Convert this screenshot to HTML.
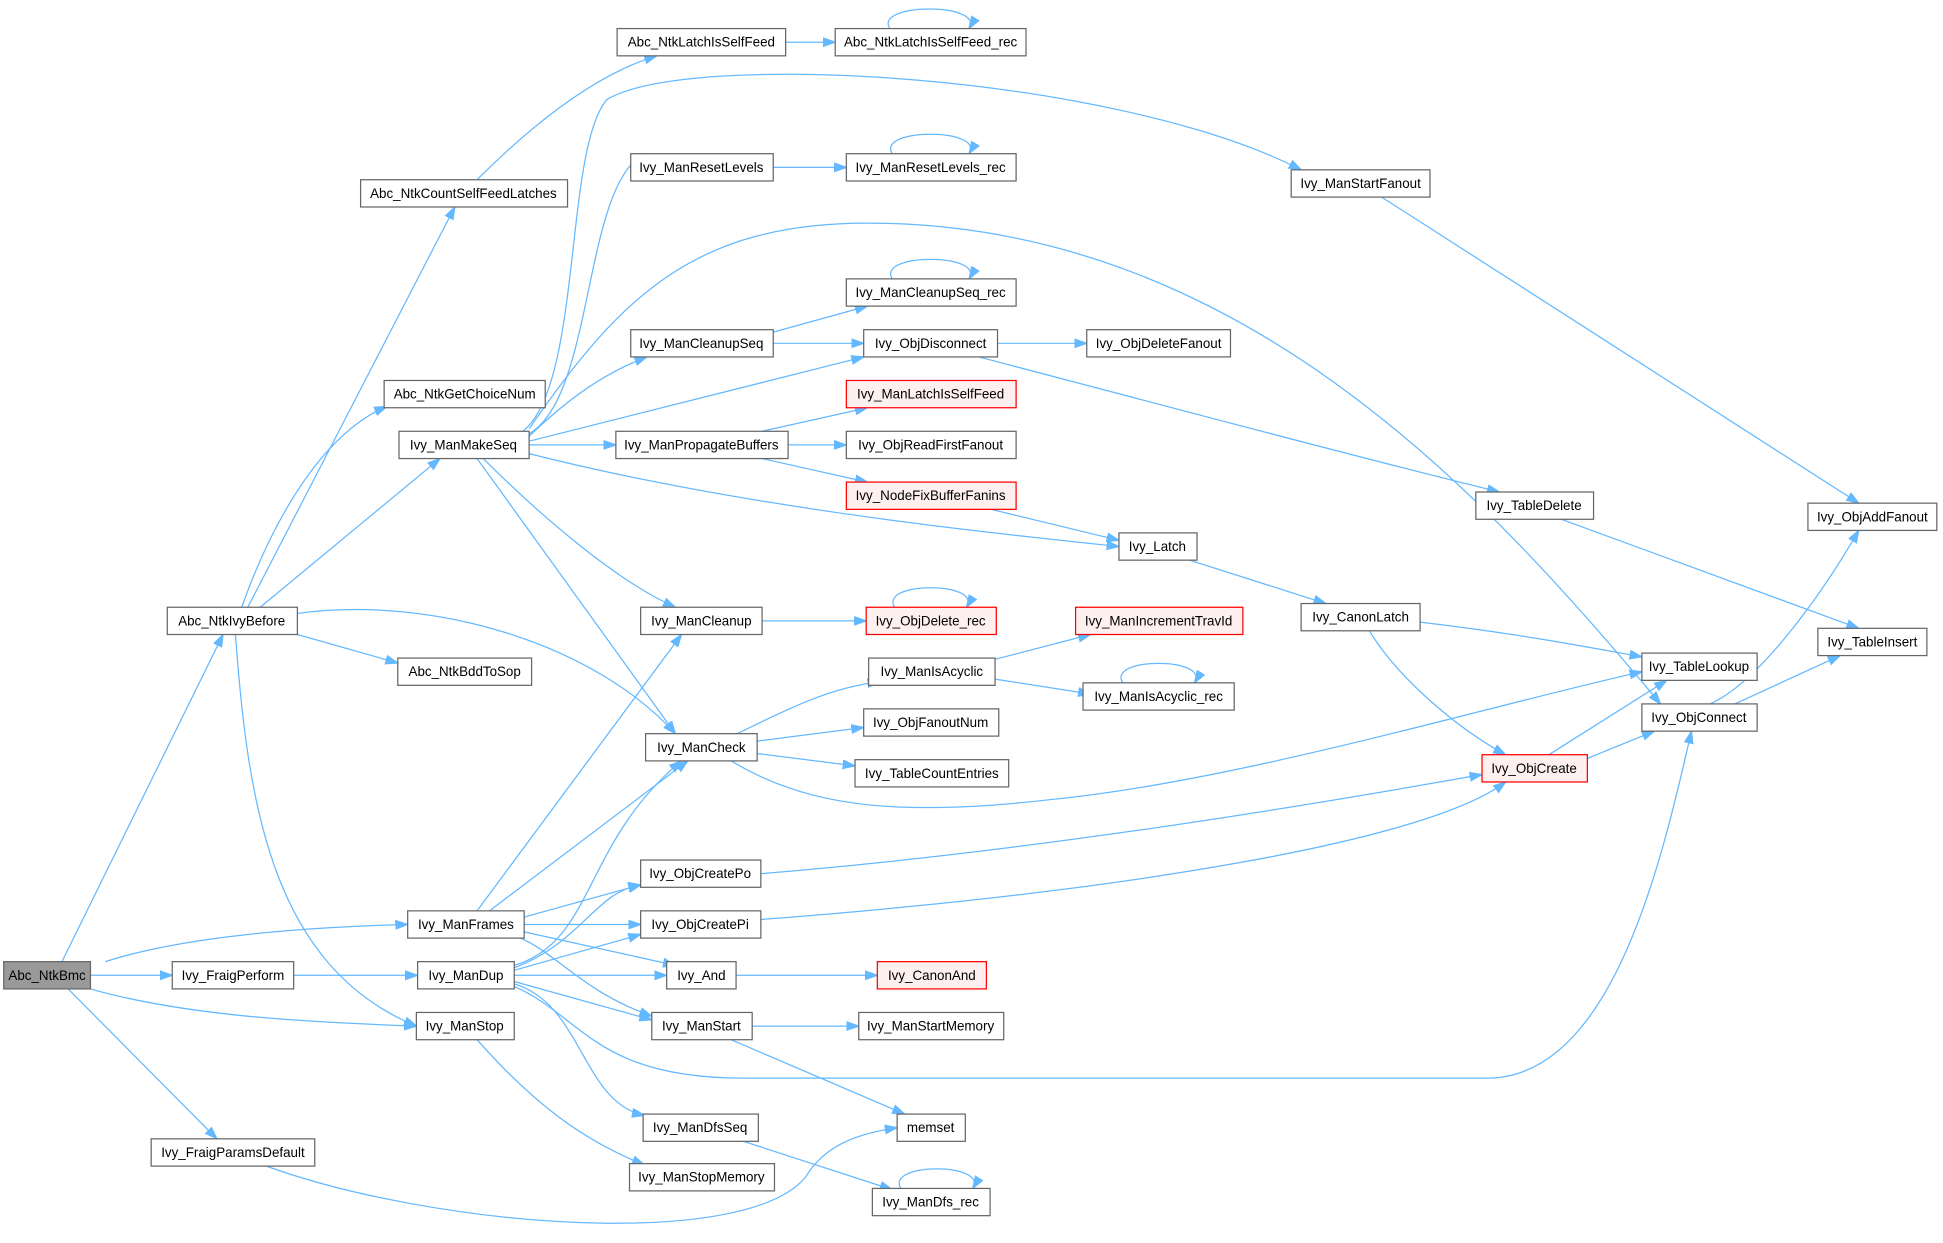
<!DOCTYPE html>
<html><head><meta charset="utf-8"><style>
html,body{margin:0;padding:0;background:#fff;}
svg{display:block;}
text{font-family:"Liberation Sans",Arial,sans-serif;font-size:10.8px;fill:#000;text-anchor:middle;dominant-baseline:central;}
.n{fill:#fff;stroke:#666;stroke-width:1;}
.r{fill:#fff0f0;stroke:#f00;stroke-width:1;}
.g{fill:#999;stroke:#666;stroke-width:1;}
path{fill:none;stroke:#63b8ff;stroke-width:1;}
</style></head><body>
<svg width="1943" height="1243" viewBox="0 0 1568 1003" xmlns="http://www.w3.org/2000/svg">
<defs><marker id="a" viewBox="0 0 10 10" refX="10" refY="5" markerWidth="10" markerHeight="10" markerUnits="userSpaceOnUse" orient="auto"><path d="M0,1.5 L10,5 L0,8.5z" style="fill:#63b8ff;stroke:#63b8ff"/></marker></defs>
<g marker-end="url(#a)">
<path d="M50,776 L180,512"/>
<path d="M73,787 L139,787"/>
<path d="M85,776 C150,755 250,748 329,746"/>
<path d="M73,798 C150,820 250,825 336,828"/>
<path d="M55,798 L175,919"/>
<path d="M237,787 L337,787"/>
<path d="M215,941 C350,990 600,1010 650,950 C665,925 690,915 724,910"/>
<path d="M200,490 L367,167"/>
<path d="M195,490 C220,420 260,350 312,328"/>
<path d="M210,490 L355,370"/>
<path d="M240,512 L321,535"/>
<path d="M240,495 C350,480 480,520 545,592"/>
<path d="M190,512 C200,650 220,780 336,828"/>
<path d="M385,145 C430,100 480,60 530,45"/>
<path d="M634,34 L674,34"/>
<path d="M718,23 C705,2 795,2 782,23"/>
<path d="M427,350 C480,320 470,150 520,124"/>
<path d="M422,348 C470,310 455,120 490,80 C560,40 900,60 1050,137"/>
<path d="M427,346 C500,240 560,180 700,180 C1000,180 1200,400 1340,568"/>
<path d="M427,352 C460,320 490,300 522,288"/>
<path d="M427,356 L697,288"/>
<path d="M427,359 L497,359"/>
<path d="M427,366 C600,410 800,430 903,441"/>
<path d="M390,370 C440,420 500,470 545,490"/>
<path d="M385,370 L545,592"/>
<path d="M624,135 L683,135"/>
<path d="M720,124 C707,103 795,103 782,124"/>
<path d="M624,268 L700,247"/>
<path d="M624,277 L697,277"/>
<path d="M720,225 C707,204 795,204 782,225"/>
<path d="M805,277 L877,277"/>
<path d="M790,288 C950,330 1100,370 1210,397"/>
<path d="M615,348 L700,329"/>
<path d="M636,359 L683,359"/>
<path d="M615,370 L700,389"/>
<path d="M800,411 L903,436"/>
<path d="M1115,159 L1500,406"/>
<path d="M1260,419 L1500,507"/>
<path d="M960,452 L1070,487"/>
<path d="M1146,502 C1230,512 1280,522 1325,530"/>
<path d="M1105,509 C1130,550 1180,590 1215,609"/>
<path d="M1250,609 L1345,549"/>
<path d="M1281,612 L1335,590"/>
<path d="M1380,568 C1420,550 1470,480 1500,428"/>
<path d="M1400,568 L1485,529"/>
<path d="M615,501 L699,501"/>
<path d="M722,490 C709,469 793,469 780,490"/>
<path d="M595,592 C640,570 670,555 710,550"/>
<path d="M611,598 L697,587"/>
<path d="M611,608 L690,618"/>
<path d="M590,614 C650,650 720,660 850,645 C1000,630 1200,570 1325,542"/>
<path d="M803,532 L880,512"/>
<path d="M803,548 L880,560"/>
<path d="M906,551 C893,530 977,530 964,551"/>
<path d="M385,735 L550,512"/>
<path d="M395,735 L555,614"/>
<path d="M423,740 L517,714"/>
<path d="M423,746 L517,746"/>
<path d="M423,752 L545,779"/>
<path d="M420,757 C450,770 470,800 526,820"/>
<path d="M415,779 C480,760 470,680 550,614"/>
<path d="M415,781 C470,760 480,720 517,714"/>
<path d="M415,783 L517,754"/>
<path d="M415,787 L538,787"/>
<path d="M415,792 L526,823"/>
<path d="M415,794 C470,810 470,890 520,900"/>
<path d="M415,796 C470,820 480,870 600,870 C800,870 1000,870 1200,870 C1300,870 1340,700 1365,590"/>
<path d="M614,705 C800,690 1000,660 1196,625"/>
<path d="M614,742 C900,720 1150,680 1215,631"/>
<path d="M594,787 L708,787"/>
<path d="M607,828 L693,828"/>
<path d="M590,839 L730,899"/>
<path d="M385,839 C430,890 470,920 520,940"/>
<path d="M600,921 L720,960"/>
<path d="M727,959 C714,938 798,938 785,959"/>
</g>
<g>
<rect class="g" x="3" y="776" width="70" height="22"/><text x="38" y="787">Abc_NtkBmc</text>
<rect class="n" x="139" y="776" width="98" height="22"/><text x="188" y="787">Ivy_FraigPerform</text>
<rect class="n" x="337" y="776" width="78" height="22"/><text x="376" y="787">Ivy_ManDup</text>
<rect class="n" x="329" y="735" width="94" height="22"/><text x="376" y="746">Ivy_ManFrames</text>
<rect class="n" x="336" y="817" width="79" height="22"/><text x="375" y="828">Ivy_ManStop</text>
<rect class="n" x="122" y="919" width="132" height="22"/><text x="188" y="930">Ivy_FraigParamsDefault</text>
<rect class="n" x="135" y="490" width="105" height="22"/><text x="187" y="501">Abc_NtkIvyBefore</text>
<rect class="n" x="291" y="145" width="167" height="22"/><text x="374" y="156">Abc_NtkCountSelfFeedLatches</text>
<rect class="n" x="310" y="307" width="130" height="22"/><text x="375" y="318">Abc_NtkGetChoiceNum</text>
<rect class="n" x="322" y="348" width="105" height="22"/><text x="374" y="359">Ivy_ManMakeSeq</text>
<rect class="n" x="321" y="531" width="108" height="22"/><text x="375" y="542">Abc_NtkBddToSop</text>
<rect class="n" x="498" y="23" width="136" height="22"/><text x="566" y="34">Abc_NtkLatchIsSelfFeed</text>
<rect class="n" x="674" y="23" width="154" height="22"/><text x="751" y="34">Abc_NtkLatchIsSelfFeed_rec</text>
<rect class="n" x="509" y="124" width="115" height="22"/><text x="566" y="135">Ivy_ManResetLevels</text>
<rect class="n" x="683" y="124" width="137" height="22"/><text x="751" y="135">Ivy_ManResetLevels_rec</text>
<rect class="n" x="1042" y="137" width="112" height="22"/><text x="1098" y="148">Ivy_ManStartFanout</text>
<rect class="n" x="683" y="225" width="137" height="22"/><text x="751" y="236">Ivy_ManCleanupSeq_rec</text>
<rect class="n" x="509" y="266" width="115" height="22"/><text x="566" y="277">Ivy_ManCleanupSeq</text>
<rect class="n" x="697" y="266" width="108" height="22"/><text x="751" y="277">Ivy_ObjDisconnect</text>
<rect class="n" x="877" y="266" width="116" height="22"/><text x="935" y="277">Ivy_ObjDeleteFanout</text>
<rect class="r" x="683" y="307" width="137" height="22"/><text x="751" y="318">Ivy_ManLatchIsSelfFeed</text>
<rect class="n" x="497" y="348" width="139" height="22"/><text x="566" y="359">Ivy_ManPropagateBuffers</text>
<rect class="n" x="683" y="348" width="137" height="22"/><text x="751" y="359">Ivy_ObjReadFirstFanout</text>
<rect class="r" x="683" y="389" width="137" height="22"/><text x="751" y="400">Ivy_NodeFixBufferFanins</text>
<rect class="n" x="1191" y="397" width="95" height="22"/><text x="1238" y="408">Ivy_TableDelete</text>
<rect class="n" x="903" y="430" width="63" height="22"/><text x="934" y="441">Ivy_Latch</text>
<rect class="n" x="1459" y="406" width="104" height="22"/><text x="1511" y="417">Ivy_ObjAddFanout</text>
<rect class="n" x="517" y="490" width="98" height="22"/><text x="566" y="501">Ivy_ManCleanup</text>
<rect class="r" x="699" y="490" width="105" height="22"/><text x="751" y="501">Ivy_ObjDelete_rec</text>
<rect class="n" x="1050" y="487" width="96" height="22"/><text x="1098" y="498">Ivy_CanonLatch</text>
<rect class="r" x="868" y="490" width="135" height="22"/><text x="935" y="501">Ivy_ManIncrementTravId</text>
<rect class="n" x="1467" y="507" width="88" height="22"/><text x="1511" y="518">Ivy_TableInsert</text>
<rect class="n" x="701" y="531" width="102" height="22"/><text x="752" y="542">Ivy_ManIsAcyclic</text>
<rect class="n" x="874" y="551" width="122" height="22"/><text x="935" y="562">Ivy_ManIsAcyclic_rec</text>
<rect class="n" x="1325" y="527" width="93" height="22"/><text x="1371" y="538">Ivy_TableLookup</text>
<rect class="n" x="521" y="592" width="90" height="22"/><text x="566" y="603">Ivy_ManCheck</text>
<rect class="n" x="697" y="572" width="109" height="22"/><text x="751" y="583">Ivy_ObjFanoutNum</text>
<rect class="n" x="690" y="613" width="124" height="22"/><text x="752" y="624">Ivy_TableCountEntries</text>
<rect class="n" x="1325" y="568" width="93" height="22"/><text x="1371" y="579">Ivy_ObjConnect</text>
<rect class="r" x="1196" y="609" width="85" height="22"/><text x="1238" y="620">Ivy_ObjCreate</text>
<rect class="n" x="517" y="694" width="97" height="22"/><text x="565" y="705">Ivy_ObjCreatePo</text>
<rect class="n" x="517" y="735" width="97" height="22"/><text x="565" y="746">Ivy_ObjCreatePi</text>
<rect class="n" x="538" y="776" width="56" height="22"/><text x="566" y="787">Ivy_And</text>
<rect class="r" x="708" y="776" width="88" height="22"/><text x="752" y="787">Ivy_CanonAnd</text>
<rect class="n" x="526" y="817" width="81" height="22"/><text x="566" y="828">Ivy_ManStart</text>
<rect class="n" x="693" y="817" width="117" height="22"/><text x="751" y="828">Ivy_ManStartMemory</text>
<rect class="n" x="519" y="899" width="93" height="22"/><text x="565" y="910">Ivy_ManDfsSeq</text>
<rect class="n" x="724" y="899" width="55" height="22"/><text x="751" y="910">memset</text>
<rect class="n" x="508" y="939" width="117" height="22"/><text x="566" y="950">Ivy_ManStopMemory</text>
<rect class="n" x="704" y="959" width="95" height="22"/><text x="751" y="970">Ivy_ManDfs_rec</text>
</g>
</svg>
</body></html>
